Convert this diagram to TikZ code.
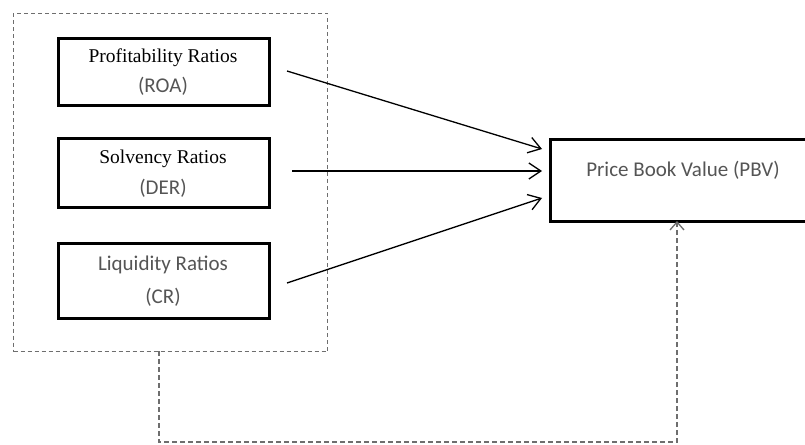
\documentclass[tikz,border=0pt]{standalone}
\usepackage{fontspec}
\setmainfont{Liberation Serif}
\newfontfamily\carlitofont{Carlito}
\usetikzlibrary{arrows.meta}
\definecolor{txtgray}{RGB}{85,85,85}
\definecolor{dashgray}{RGB}{110,110,110}
\begin{document}
\begin{tikzpicture}[x=1pt,y=-1pt,
  ratiobox/.style={draw=black,line width=2.6pt,minimum width=211pt,minimum height=68pt,inner sep=0pt,align=center,anchor=north west},
  serift/.style={font=\fontsize{19.5}{22}\selectfont,text=black},
  calt/.style={font=\carlitofont\fontsize{21}{24}\selectfont,text=txtgray},
  arr/.style={line width=1.3pt,-{Straight Barb[length=12pt,width=16pt,line width=1.3pt]}},
  grp/.style={draw=dashgray,line width=1pt,dash pattern=on 4pt off 3pt},
  fb/.style={draw=dashgray,line width=1.2pt,dash pattern=on 5pt off 3pt,-{Straight Barb[length=8pt,width=14pt,line width=1.3pt]}}]
\useasboundingbox (0,0) rectangle (805,444);
\fill[white] (0,0) rectangle (805,444);
% group
\node[grp,minimum width=314pt,minimum height=338pt,inner sep=0pt,anchor=north west] (grp) at (13,13) {};
% boxes
\node[ratiobox,minimum height=67pt] (r1) at (57,37) {};
\node[serift] (t1) at (163,58) {Profitability Ratios};
\node[calt] (s1) at (163,86) {(ROA)};
\node[ratiobox,minimum height=69pt] (r2) at (57,137) {};
\node[serift] (t2) at (163,159) {Solvency Ratios};
\node[calt] (s2) at (163,188) {(DER)};
\node[ratiobox,minimum height=75pt] (r3) at (57,242) {};
\node[calt] (t3) at (163,265) {Liquidity Ratios};
\node[calt] (s3) at (163,297) {(CR)};
% PBV
\node[draw=black,line width=2.6pt,minimum width=270pt,minimum height=82pt,inner sep=0pt,anchor=north west] (pbv) at (549,138) {};
\node[calt] (pt) at (683,170) {Price Book Value (PBV)};
% arrows
\coordinate (a1) at (287,71);
\coordinate (a2) at (292,171);
\coordinate (a3) at (287,283);
\coordinate (e1) at (542,149);
\coordinate (e2) at (542,171);
\coordinate (e3) at (542,198);
\draw[arr] (a1) -- (e1);
\draw[arr] (a2) -- (e2);
\draw[arr] (a3) -- (e3);
% feedback
\coordinate (f0) at (159,351);
\coordinate (f1) at (159,442);
\coordinate (f2) at (677,221);
\draw[fb] (f0) -- (f1) -| (f2);
\end{tikzpicture}
\end{document}
